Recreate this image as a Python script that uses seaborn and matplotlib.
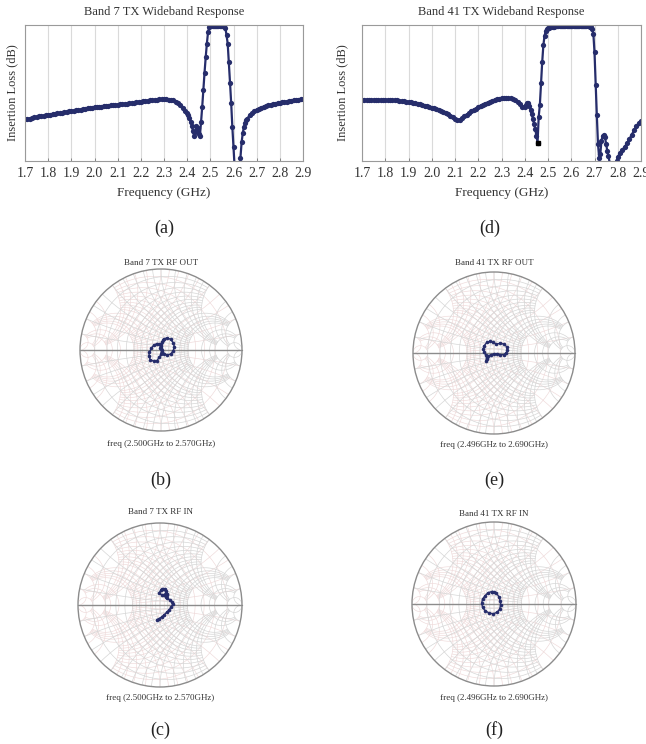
import numpy as np
import matplotlib
matplotlib.use("Agg")
import matplotlib.pyplot as plt
import seaborn as sns
from matplotlib.patches import Circle

sns.set_theme(style="white")
plt.rcParams['font.family'] = ['Liberation Serif', 'DejaVu Serif']

# ---------------- data ----------------
freq_ticks = [1.7, 1.8, 1.9, 2.0, 2.1, 2.2, 2.3, 2.4, 2.5, 2.6, 2.7, 2.8, 2.9]
freq_tick_labels = ["1.7", "1.8", "1.9", "2.0", "2.1", "2.2", "2.3", "2.4", "2.5", "2.6", "2.7", "2.8", "2.9"]

# Band 7 wideband: sampling grid (GHz)
b7_freq = np.round(np.concatenate([np.arange(1.70, 2.395, 0.01),
                                   np.arange(2.400, 2.6575, 0.005),
                                   np.arange(2.66, 2.905, 0.01)]), 3)
b7_loss_low = [-27.7, -27.6, -27.5, -27.3, -27.2, -27.1, -26.9, -26.8, -26.7, -26.6,
               -26.5, -26.4, -26.2, -26.1, -26.0, -25.9, -25.8, -25.6, -25.5, -25.4,
               -25.3, -25.2, -25.1, -25.0, -24.9, -24.8, -24.6, -24.5, -24.4, -24.3,
               -24.2, -24.1, -24.0, -24.0, -23.9, -23.8, -23.7, -23.6, -23.6, -23.5,
               -23.4, -23.3, -23.2, -23.2, -23.1, -23.0, -22.9, -22.8, -22.7, -22.6,
               -22.5, -22.4, -22.3, -22.3, -22.2, -22.1, -22.0, -22.0, -21.9, -21.9,
               -21.9, -21.9, -22.0, -22.1, -22.2, -22.5, -22.9, -23.5, -24.3, -25.2]
b7_loss_band = [-25.9, -26.6, -27.4, -28.4, -29.6, -31.2, -32.6, -31.6, -29.6, -30.4,
                -32.2, -32.6, -28.5, -24.0, -19.0, -14.0, -9.5, -5.5, -2.2, -0.7,
                -0.3, -0.2, -0.2, -0.2, -0.2, -0.2, -0.2, -0.2, -0.2, -0.2,
                -0.2, -0.2, -0.3, -1.0, -3.0, -5.5, -11.0, -17.0, -23.0, -30.0,
                -36.0, -42.0, -48.0, -53.0, -50.0, -44.0, -39.0, -34.5, -31.8, -30.0,
                -28.8, -27.8]
b7_loss_high = [-27.5, -26.5, -25.9, -25.4, -25.0, -24.6, -24.3, -24.0, -23.8, -23.6,
                -23.4, -23.2, -23.1, -22.9, -22.8, -22.7, -22.6, -22.5, -22.4, -22.3,
                -22.2, -22.1, -22.0, -21.9, -21.9]
b7_loss = b7_loss_low + b7_loss_band + b7_loss_high

# Band 41 wideband
b41_freq = np.round(np.concatenate([np.arange(1.70, 2.395, 0.01),
                                    np.arange(2.400, 2.7975, 0.005),
                                    np.arange(2.80, 2.905, 0.01)]), 3)
b41_loss_low = [-22.0, -22.0, -22.0, -22.0, -22.0, -22.0, -22.0, -22.0, -22.0, -22.0,
                -22.0, -22.1, -22.1, -22.1, -22.2, -22.2, -22.3, -22.3, -22.4, -22.5,
                -22.6, -22.7, -22.8, -23.0, -23.1, -23.3, -23.5, -23.7, -23.9, -24.1,
                -24.3, -24.5, -24.8, -25.0, -25.3, -25.6, -25.9, -26.3, -26.7, -27.1,
                -27.6, -28.0, -27.8, -27.4, -26.9, -26.4, -25.9, -25.4, -25.0, -24.6,
                -24.2, -23.8, -23.4, -23.1, -22.8, -22.5, -22.3, -22.0, -21.8, -21.7,
                -21.6, -21.5, -21.5, -21.5, -21.6, -21.8, -22.1, -22.6, -23.3, -24.0]
b41_loss_band = [-24.0, -23.4, -22.9, -23.0, -23.8, -25.0, -26.3, -27.5, -29.0, -30.5,
                 -32.5, -34.6, -27.0, -23.5, -17.0, -11.0, -6.0, -3.2, -1.9, -1.3,
                 -1.0, -0.8, -0.7, -0.6, -0.5, -0.5, -0.4, -0.4, -0.4, -0.3,
                 -0.3, -0.3, -0.3, -0.3, -0.3, -0.3, -0.3, -0.3, -0.3, -0.3,
                 -0.3, -0.3, -0.3, -0.3, -0.3, -0.3, -0.3, -0.3, -0.3, -0.3,
                 -0.3, -0.3, -0.3, -0.3, -0.4, -0.4, -0.5, -0.7, -1.2, -2.5,
                 -8.0, -17.5, -26.5, -35.0, -39.0, -38.0, -34.0, -32.5, -32.3, -33.0,
                 -35.0, -37.0, -38.5, -40.5, -43.0, -45.0, -45.0, -43.5, -41.5, -40.0]
b41_loss_high = [-38.8, -37.6, -36.8, -35.8, -34.8, -33.6, -32.3, -31.0, -29.8, -28.9, -28.2]
b41_loss = b41_loss_low + b41_loss_band + b41_loss_high

# Smith chart traces (reflection coefficient, real / imaginary)
b7_out_re = [0.01, 0.00, -0.02, -0.05, -0.09, -0.12, -0.145, -0.15, -0.13, -0.09,
             -0.05, -0.02, 0.00, 0.01, 0.00, 0.01, 0.04, 0.08, 0.12, 0.15,
             0.165, 0.15, 0.12, 0.08, 0.04, 0.01, -0.01, 0.00, 0.03]
b7_out_im = [-0.02, 0.03, 0.07, 0.08, 0.06, 0.02, -0.03, -0.08, -0.12, -0.14,
             -0.13, -0.09, -0.05, 0.00, 0.05, 0.10, 0.14, 0.15, 0.13, 0.09,
             0.04, -0.01, -0.05, -0.06, -0.05, -0.02, 0.02, 0.07, 0.12]

b7_in_re = [-0.04, -0.01, 0.02, 0.05, 0.08, 0.11, 0.14, 0.155, 0.15, 0.12,
            0.09, 0.07, 0.08, 0.09, 0.07, 0.04, 0.01, -0.01, 0.02, 0.05,
            0.07, 0.06, 0.03]
b7_in_im = [-0.18, -0.165, -0.145, -0.12, -0.09, -0.06, -0.02, 0.01, 0.04, 0.06,
            0.08, 0.10, 0.12, 0.14, 0.17, 0.19, 0.18, 0.15, 0.12, 0.12,
            0.15, 0.20, 0.19]

b41_out_re = [-0.10, -0.09, -0.10, -0.12, -0.13, -0.12, -0.09, -0.05, -0.01, 0.03,
              0.08, 0.12, 0.155, 0.165, 0.15, 0.12, 0.08, 0.04, 0.00, -0.04,
              -0.07, -0.09]
b41_out_im = [-0.10, -0.07, -0.03, 0.01, 0.05, 0.09, 0.13, 0.145, 0.13, 0.11,
              0.12, 0.11, 0.08, 0.04, 0.00, -0.02, -0.02, -0.01, -0.01, -0.02,
              -0.04, -0.06]

b41_in_re = [-0.03, -0.07, -0.11, -0.14, -0.15, -0.14, -0.11, -0.06, -0.01, 0.04,
             0.07, 0.08, 0.075, 0.06, 0.03, 0.00, -0.03]
b41_in_im = [0.15, 0.14, 0.10, 0.06, 0.01, -0.04, -0.08, -0.11, -0.12, -0.10,
             -0.06, -0.01, 0.04, 0.09, 0.13, 0.15, 0.15]

# ---------------- drawing ----------------
W, H = 646, 744
NAVY = "#262d6b"
fig = plt.figure(figsize=(W / 100, H / 100), dpi=100)
fig.patch.set_facecolor("white")


def px_rect(x0, y0, x1, y1):
    return [x0 / W, 1 - y1 / H, (x1 - x0) / W, (y1 - y0) / H]


def wideband(rect, freq, loss, title, ylab_x, panel, panel_x):
    ax = fig.add_axes(px_rect(*rect))
    sns.lineplot(x=freq, y=loss, ax=ax, estimator=None, sort=False, color=NAVY,
                 linewidth=1.6, marker="o", markersize=3.8, markeredgewidth=0,
                 markerfacecolor=NAVY)
    ax.set_xlim(1.7, 2.9)
    ax.set_ylim(-40, 0)
    ax.set_xticks(freq_ticks)
    ax.set_xticklabels(freq_tick_labels, fontsize=10, color="#333333")
    ax.set_yticks([])
    ax.grid(axis="x", color="#dadada", linewidth=0.8)
    ax.set_axisbelow(True)
    ax.tick_params(axis="x", direction="in", length=2.5, width=0.6,
                   color="#777777", pad=4, bottom=True)
    for s in ax.spines.values():
        s.set_color("#9a9a9a")
        s.set_linewidth(0.8)
    ax.set_xlabel("")
    ax.set_ylabel("")
    cx = (rect[0] + rect[2]) / 2
    fig.text(cx / W, 1 - 12 / H, title, ha="center", va="center", fontsize=9, color="#333333")
    fig.text(cx / W, 1 - 193 / H, "Frequency (GHz)", ha="center", va="center",
             fontsize=9.5, color="#333333")
    fig.text(ylab_x / W, 1 - 93 / H, "Insertion Loss (dB)", ha="center", va="center",
             rotation=90, fontsize=9, color="#333333")
    fig.text(panel_x / W, 1 - 228 / H, panel, ha="center", va="center", fontsize=13,
             color="#222222")
    return ax


# Smith chart grid: (value, limit of the other coordinate)
R_GRID = [(v, 2.0) for v in (0.1, 0.2, 0.3, 0.4, 0.5, 0.6, 0.7, 0.8, 0.9, 1.0)] + \
         [(v, 5.0) for v in (1.2, 1.4, 1.6, 1.8, 2.0)] + [(v, 10.0) for v in (3.0, 4.0, 5.0)] + \
         [(10.0, 60.0)]
X_GRID = [(v, 2.0) for v in (0.1, 0.2, 0.3, 0.4, 0.5, 0.6, 0.7, 0.8, 0.9, 1.0)] + \
         [(v, 5.0) for v in (1.2, 1.4, 1.6, 1.8, 2.0)] + [(v, 10.0) for v in (3.0, 4.0, 5.0)] + \
         [(10.0, 60.0)]


def smith_grid(ax, col, mirror, lw):
    m = -1 if mirror else 1
    for r, xm in R_GRID:
        xs = np.concatenate([-np.geomspace(xm, 1e-3, 200), [0], np.geomspace(1e-3, xm, 200)])
        g = (r + 1j * xs - 1) / (r + 1j * xs + 1)
        ax.plot(m * g.real, g.imag, color=col, lw=lw, zorder=1)
    for x, rm in X_GRID:
        rs = np.concatenate([[0], np.geomspace(1e-3, rm, 300)])
        for s in (1, -1):
            g = (rs + 1j * s * x - 1) / (rs + 1j * s * x + 1)
            ax.plot(m * g.real, g.imag, color=col, lw=lw, zorder=1)


def smith(cx, cy, R, re, im, title, title_y, ftxt, ftxt_y, panel, panel_y):
    ax = fig.add_axes(px_rect(cx - R, cy - R, cx + R, cy + R))
    ax.set_axis_off()
    smith_grid(ax, "#eed9d9", True, 0.45)
    smith_grid(ax, "#d6d6d6", False, 0.5)
    ax.add_patch(Circle((0, 0), 1.0, fill=False, lw=1.0, color="#8c8c8c", clip_on=False, zorder=2))
    ax.plot([-1, 1], [0, 0], color="#8c8c8c", lw=1.0, clip_on=False, zorder=2)
    sns.lineplot(x=re, y=im, ax=ax, estimator=None, sort=False, color=NAVY,
                 linewidth=1.0, marker="o", markersize=2.6, markeredgewidth=0,
                 markerfacecolor=NAVY, zorder=3)
    ax.set_xlim(-1, 1)
    ax.set_ylim(-1, 1)
    fig.text(cx / W, 1 - title_y / H, title, ha="center", va="center", fontsize=6.5,
             color="#333333")
    fig.text(cx / W, 1 - ftxt_y / H, ftxt, ha="center", va="center", fontsize=6.5,
             color="#333333")
    fig.text(cx / W, 1 - panel_y / H, panel, ha="center", va="center", fontsize=13,
             color="#222222")
    return ax


ax_a = wideband((25, 25, 303, 161), b7_freq, b7_loss, "Band 7 TX Wideband Response",
                12, "(a)", 164)
ax_d = wideband((362, 25, 641, 161), b41_freq, b41_loss, "Band 41 TX Wideband Response",
                342, "(d)", 490)
# highlighted minimum marker on Band 41 notch
i_min = int(np.argmin(b41_loss_band[:20])) + len(b41_loss_low)
ax_d.plot([b41_freq[i_min]], [b41_loss[i_min]], marker="s", color="black", markersize=3.5)

smith(161, 350, 81, b7_out_re, b7_out_im, "Band 7 TX RF OUT", 263,
      "freq (2.500GHz to 2.570GHz)", 444, "(b)", 480)
smith(160, 605, 82, b7_in_re, b7_in_im, "Band 7 TX RF IN", 512,
      "freq (2.500GHz to 2.570GHz)", 698, "(c)", 730)
smith(494, 353, 81, b41_out_re, b41_out_im, "Band 41 TX RF OUT", 263,
      "freq (2.496GHz to 2.690GHz)", 445, "(e)", 480)
smith(494, 604, 82, b41_in_re, b41_in_im, "Band 41 TX RF IN", 514,
      "freq (2.496GHz to 2.690GHz)", 698, "(f)", 730)

fig.savefig("out.png", dpi=100, facecolor="white")
